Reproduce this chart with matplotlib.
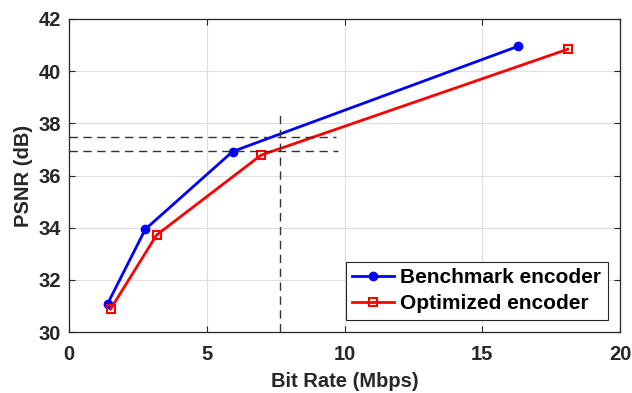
import matplotlib.pyplot as plt

bench_rate = [1.40, 2.77, 5.94, 16.29]
bench_psnr = [31.08, 33.94, 36.92, 40.95]
opt_rate = [1.51, 3.18, 6.97, 18.10]
opt_psnr = [30.88, 33.72, 36.78, 40.84]

# reference guide lines
h_levels = [37.49, 36.94]
h_ends = [9.68, 9.75]
v_rate = 7.66
v_top = 38.51

plt.rcParams['font.family'] = ['Liberation Sans', 'DejaVu Sans']
plt.rcParams['font.weight'] = 'bold'

fig = plt.figure(figsize=(6.32, 3.93), dpi=100)
ax = fig.add_axes([69/632, 1-332/393, 551/632, 313/393])

ax.plot(bench_rate, bench_psnr, '-o', color='blue', lw=2, ms=6, label='Benchmark encoder')
ax.plot(opt_rate, opt_psnr, '-s', color='red', lw=2, ms=6, mfc='none', mew=1.5,
        label='Optimized encoder')

for lv, xe in zip(h_levels, h_ends):
    ax.plot([0, xe], [lv, lv], '--', color='0.2', lw=1, dashes=(6, 4))
ax.plot([v_rate, v_rate], [30, v_top], '--', color='0.2', lw=1, dashes=(6, 4))

ax.set_xlim(0, 20)
ax.set_ylim(30, 42)
ax.set_xticks([0, 5, 10, 15, 20])
ax.set_yticks([30, 32, 34, 36, 38, 40, 42])
ax.grid(True, color='0.87', lw=0.8)
ax.tick_params(direction='in', top=True, right=True, labelsize=14.5, colors='0.15',
               length=4)
ax.tick_params(axis='x', pad=9)
ax.tick_params(axis='y', pad=6)
for lab in ax.get_xticklabels() + ax.get_yticklabels():
    lab.set_fontweight('bold')
    lab.set_color('0.15')
for sp in ax.spines.values():
    sp.set_color('0.15')
    sp.set_linewidth(0.9)

ax.set_xlabel('Bit Rate (Mbps)', fontsize=14.5, fontweight='bold', color='0.15',
              labelpad=6)
ax.set_ylabel('PSNR (dB)', fontsize=14.5, fontweight='bold', color='0.15',
              labelpad=4)

leg = ax.legend(loc='lower right', fontsize=15, frameon=True, fancybox=False,
                edgecolor='0.15', framealpha=1, borderpad=0.3, labelspacing=0.35,
                handlelength=2.0, handletextpad=0.3, borderaxespad=0.6)
leg.get_frame().set_linewidth(0.8)

fig.savefig('out.png', dpi=100)
